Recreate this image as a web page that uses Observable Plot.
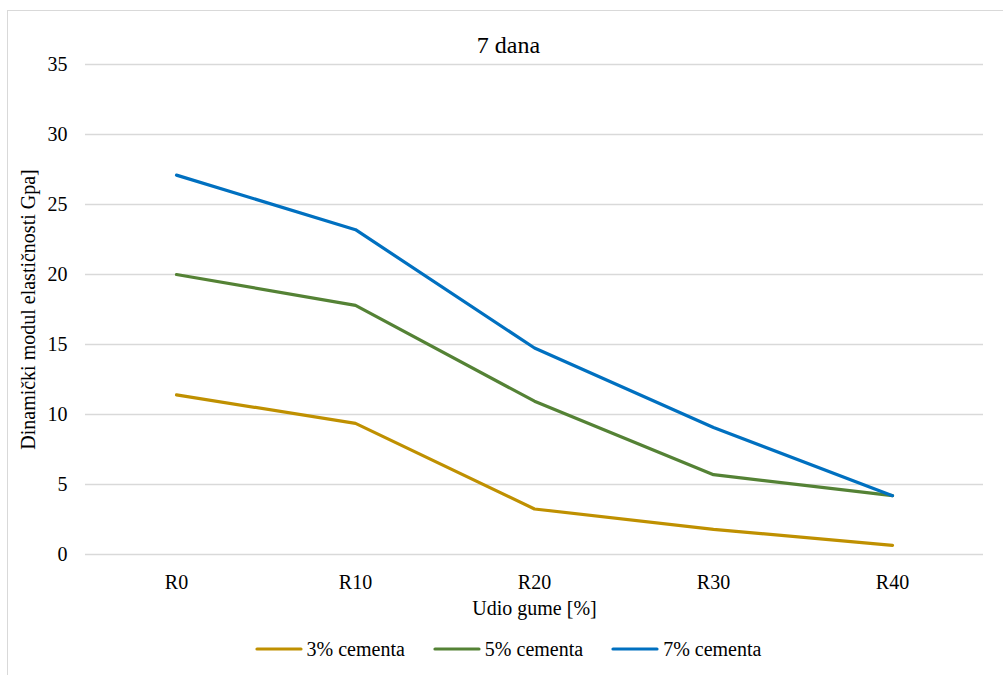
<!DOCTYPE html>
<html>
<head>
<meta charset="utf-8">
<script src="https://cdn.jsdelivr.net/npm/d3@7"></script>
<script src="https://cdn.jsdelivr.net/npm/@observablehq/plot@0.6"></script>
<style>
  html, body { margin: 0; padding: 0; background: #fff; }
  #wrap { position: relative; width: 1003px; height: 675px; overflow: hidden; font-family: 'Liberation Serif', 'Times New Roman', Times, 'DejaVu Serif', serif; }
  #frame { position: absolute; left: 7px; top: 10px; width: 1100px; height: 800px; border: 1.5px solid #d9d9d9; box-sizing: border-box; }
  #chart { position: absolute; left: 0; top: 0; }
  #legend { position: absolute; left: 0; top: 630px; width: 1003px; height: 38px; display: flex; justify-content: center; align-items: center; padding-left: 13px; box-sizing: border-box; font-size: 20px; color: #000; }
  .item { display: flex; align-items: center; margin: 0 14px; }
  .item svg { margin-right: 4px; }
</style>
</head>
<body>
<div id="wrap">
  <div id="frame"></div>
  <div id="chart"></div>
  <div id="legend"></div>
</div>
<script>
const categories = ["R0", "R10", "R20", "R30", "R40"];
const cement3 = [11.4, 9.37, 3.25, 1.8, 0.65];
const cement5 = [20.0, 17.8, 10.95, 5.7, 4.2];
const cement7 = [27.1, 23.2, 14.75, 9.07, 4.2];
const seriesNames = ["3% cementa", "5% cementa", "7% cementa"];
const seriesColors = ["#BF9000", "#548235", "#0070C0"];
const yTicks = [0, 5, 10, 15, 20, 25, 30, 35];
const title = "7 dana";
const xLabel = "Udio gume [%]";
const yLabel = "Dinamički modul elastičnosti Gpa]";

const allSeries = [cement3, cement5, cement7];
const data = [];
allSeries.forEach((vals, si) => {
  vals.forEach((v, i) => data.push({cat: categories[i], value: v, series: seriesNames[si]}));
});

const font = "'Liberation Serif', 'Times New Roman', Times, 'DejaVu Serif', serif";

const chart = Plot.plot({
  width: 1003,
  height: 630,
  marginLeft: 85,
  marginRight: 20,
  marginTop: 64,
  marginBottom: 76,
  style: { fontFamily: font, fontSize: "20px", color: "#000", background: "transparent" },
  x: { type: "point", domain: categories, padding: 0.5 },
  y: { domain: [0, 35] },
  color: { domain: seriesNames, range: seriesColors },
  marks: [
    Plot.gridY(yTicks, { stroke: "#d9d9d9", strokeOpacity: 1, strokeWidth: 1.3 }),
    Plot.axisY(yTicks, { tickSize: 0, tickPadding: 18, fontSize: 20, label: null, fill: "#000" }),
    Plot.axisX({ tickSize: 0, tickPadding: 20, fontSize: 20, label: null, fill: "#000" }),
    Plot.line(data, { x: "cat", y: "value", z: "series", stroke: "series", strokeWidth: 3.2, strokeLinejoin: "round", strokeLinecap: "round" }),
    Plot.text([title], { frameAnchor: "top", dy: -19, fontSize: 24, fill: "#000", lineAnchor: "middle", textAnchor: "middle", dx: -26 }),
    Plot.text([xLabel], { frameAnchor: "bottom", dy: 54, fontSize: 20, fill: "#000", lineAnchor: "middle", textAnchor: "middle" }),
    Plot.text([yLabel], { frameAnchor: "left", dx: -57, rotate: -90, fontSize: 20, fill: "#000", lineAnchor: "middle", textAnchor: "middle" })
  ]
});
document.getElementById("chart").appendChild(chart);

const legend = document.getElementById("legend");
seriesNames.forEach((name, i) => {
  const item = document.createElement("div");
  item.className = "item";
  item.innerHTML = `<svg width="48" height="10"><line x1="2" y1="5" x2="46" y2="5" stroke="${seriesColors[i]}" stroke-width="3.2" stroke-linecap="round"/></svg><span>${name}</span>`;
  legend.appendChild(item);
});
</script>
</body>
</html>
